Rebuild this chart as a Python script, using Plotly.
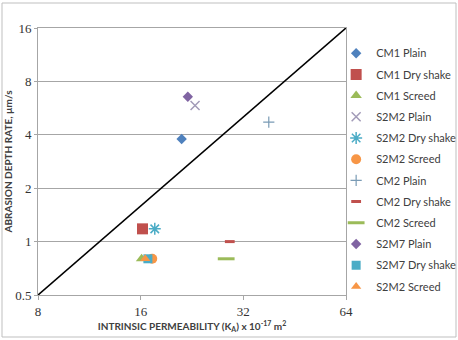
import plotly.graph_objects as go

series_names = ["CM1 Plain", "CM1 Dry shake", "CM1 Screed", "S2M2 Plain", "S2M2 Dry shake",
                "S2M2 Screed", "CM2 Plain", "CM2 Dry shake", "CM2 Screed", "S2M7 Plain",
                "S2M7 Dry shake", "S2M2 Screed"]
permeability = [21.1, 16.2, 16.1, 23.1, 17.6, 17.3, 38.0, 29.2, 28.5, 22.0, 16.8, 16.5]
abrasion_rate = [3.79, 1.18, 0.80, 5.85, 1.18, 0.80, 4.72, 1.00, 0.80, 6.55, 0.80, 0.80]

line_x = [8, 64]
line_y = [0.5, 16]

x_ticks = [8, 16, 32, 64]
y_ticks = [0.5, 1, 2, 4, 8, 16]
y_tick_text = ["0.5", "1", "2", "4", "8", "16"]

styles = [
    dict(symbol="diamond", color="#4F81BD", size=8),
    dict(symbol="square", color="#C0504D", size=11),
    dict(symbol="triangle-up", color="#9BBB59", size=10),
    dict(symbol="x-thin-open", color="#A29BB8", size=9, line=dict(width=1.5, color="#A29BB8")),
    dict(symbol="asterisk-open", color="#4BACC6", size=10, line=dict(width=1.5, color="#4BACC6")),
    dict(symbol="circle", color="#F79646", size=10),
    dict(symbol="cross-thin-open", color="#7A9BB5", size=8, line=dict(width=1.2, color="#7A9BB5")),
    dict(symbol="line-ew-open", color="#C0504D", size=7, line=dict(width=3, color="#C0504D")),
    dict(symbol="line-ew-open", color="#9BBB59", size=12, line=dict(width=3, color="#9BBB59")),
    dict(symbol="diamond", color="#8064A2", size=8),
    dict(symbol="square", color="#4BACC6", size=9),
    dict(symbol="triangle-up", color="#F79646", size=9),
]

fig = go.Figure()
fig.add_trace(go.Scatter(x=line_x, y=line_y, mode="lines",
                         line=dict(color="black", width=1.6), showlegend=False, hoverinfo="skip"))
for i, name in enumerate(series_names):
    fig.add_trace(go.Scatter(x=[permeability[i]], y=[abrasion_rate[i]], mode="markers",
                             name=name, marker=styles[i], legendgroup=f"g{i}"))

fig.update_layout(
    width=458, height=340,
    margin=dict(l=38, r=112, t=28, b=45, autoexpand=False),
    paper_bgcolor="white", plot_bgcolor="white",
    font=dict(family="Lato, Carlito, sans-serif", color="#404040", size=10),
    legend=dict(x=0.968, y=0.96, yanchor="top", xanchor="left",
                font=dict(size=11, color="#404040"), tracegroupgap=2.2,
                itemwidth=30, bgcolor="rgba(0,0,0,0)"),
    showlegend=True,
)
fig.update_xaxes(type="log", range=[0.90309, 1.80618], tickvals=x_ticks,
                 ticktext=[str(v) for v in x_ticks],
                 tickfont=dict(family="Liberation Serif, serif", size=13, color="#333333"),
                 showgrid=False, showline=True, linecolor="#A6A6A6", mirror=True,
                 ticks="outside", ticklen=4, tickcolor="#A6A6A6", zeroline=False,
                 title=dict(text="<b>INTRINSIC PERMEABILITY (K<sub>A</sub>) x 10<sup>-17</sup> m<sup>2</sup></b>",
                            font=dict(size=10, color="#404040"), standoff=2))
fig.update_yaxes(type="log", range=[-0.30103, 1.20412], tickvals=y_ticks, ticktext=y_tick_text,
                 tickfont=dict(family="Liberation Serif, serif", size=13, color="#333333"),
                 showgrid=True, gridcolor="#A6A6A6", gridwidth=1,
                 showline=True, linecolor="#A6A6A6", mirror=True,
                 ticks="outside", ticklen=3, tickcolor="#A6A6A6", zeroline=False,
                 title=dict(text="<b>ABRASION DEPTH RATE, µm/s</b>",
                            font=dict(size=10, color="#404040"), standoff=0))

fig.add_shape(type="rect", xref="paper", yref="paper",
              x0=-36 / 308, x1=(456 - 38) / 308, y0=(295 - 337) / 267, y1=1 + 25 / 267,
              line=dict(color="#BFBFBF", width=1), fillcolor="rgba(0,0,0,0)", layer="below")

fig.write_html("out.html", config={"displayModeBar": False},
               post_script="document.body.style.margin='0';")
